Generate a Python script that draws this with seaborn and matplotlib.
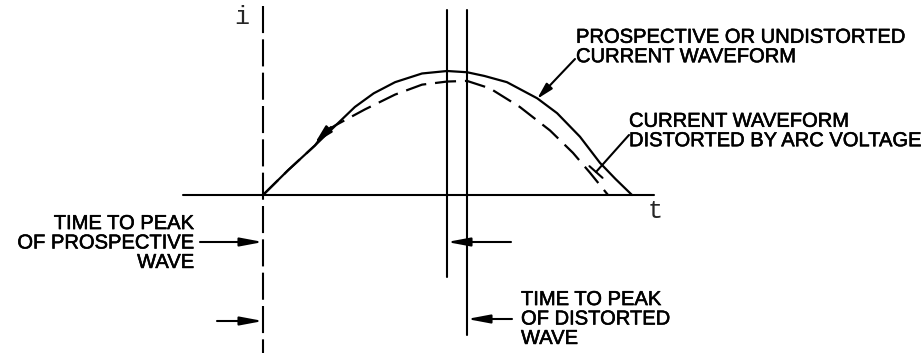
import matplotlib
matplotlib.use("Agg")
import matplotlib.pyplot as plt
import matplotlib.patheffects as pe
import numpy as np
import pandas as pd
import seaborn as sns

# prospective (undistorted) current waveform
solid_t = [0.00, 0.68, 1.41, 2.00, 2.49, 3.00, 3.58, 4.31, 4.99, 5.53, 6.00, 6.61, 7.43, 7.97, 8.59, 9.13, 9.55, 10.00]
solid_i = [0.00, 0.20, 0.40, 0.57, 0.71, 0.82, 0.91, 0.98, 1.00, 0.99, 0.96, 0.91, 0.78, 0.66, 0.47, 0.26, 0.13, 0.00]

# current waveform distorted by arc voltage
dist_t = [0.00, 0.68, 1.41, 1.68, 1.95, 2.76, 3.58, 4.31, 4.99, 5.53, 6.15, 6.96, 7.78, 8.40, 8.86, 9.35]
dist_i = [0.00, 0.20, 0.40, 0.51, 0.56, 0.69, 0.81, 0.89, 0.915, 0.92, 0.86, 0.71, 0.52, 0.34, 0.18, 0.00]

t_peak_prospective = 4.99
t_peak_distorted = 5.53

label_prospective = "PROSPECTIVE OR UNDISTORTED\nCURRENT WAVEFORM"
label_distorted = "CURRENT WAVEFORM\nDISTORTED BY ARC VOLTAGE"
label_time_prosp = "TIME TO PEAK\nOF PROSPECTIVE\nWAVE"
label_time_dist = "TIME TO PEAK\nOF DISTORTED\nWAVE"

# layout: pixel grid of the 922x353 picture -> data units
X0, Y0, PX_T, PX_I = 263, 195, 36.9, 124.0


def px(x, y):
    return ((x - X0) / PX_T, (Y0 - y) / PX_I)


def setup():
    sns.set_theme(style="white")
    plt.rcParams["font.family"] = ["Liberation Sans", "DejaVu Sans"]


def arrow(ax, start, tip, style="-|>,head_length=0.85,head_width=0.16", scale=16):
    ax.annotate("", xy=px(*tip), xytext=px(*start),
                arrowprops=dict(arrowstyle=style, color="black", lw=1.5,
                                mutation_scale=scale, shrinkA=0, shrinkB=0))


def main():
    setup()
    fig = plt.figure(figsize=(9.22, 3.53), dpi=100)
    ax = fig.add_axes([0, 0, 1, 1])
    ax.set_xlim(px(0, 0)[0], px(922, 0)[0])
    ax.set_ylim(px(0, 353)[1], px(0, 0)[1])
    ax.axis("off")

    df_s = pd.DataFrame({"t": solid_t, "i": solid_i})
    df_d = pd.DataFrame({"t": dist_t, "i": dist_i})
    sns.lineplot(data=df_s, x="t", y="i", color="black", lw=1.6, sort=False, estimator=None, ax=ax)
    sns.lineplot(data=df_d, x="t", y="i", color="black", lw=1.6, sort=False, estimator=None,
                 linestyle=(0, (9.5, 4)), ax=ax)

    # time axis
    ax.plot([px(183, 0)[0], px(654, 0)[0]], [0, 0], color="black", lw=1.5)
    # current axis (dashed) at t = 0
    ax.plot([0, 0], [px(0, 6)[1], px(0, 353)[1]], color="black", lw=1.5, linestyle=(0, (13, 3)))
    # peak markers
    ax.plot([t_peak_prospective] * 2, [px(0, 10)[1], px(0, 277)[1]], color="black", lw=1.5)
    ax.plot([t_peak_distorted] * 2, [px(0, 10)[1], px(0, 335)[1]], color="black", lw=1.5)

    ax.text(*px(242, 17), "i", fontsize=18, family="Liberation Mono", ha="center", va="center")
    ax.text(*px(655, 211), "t", fontsize=18, family="Liberation Mono", ha="center", va="center")

    bold = [pe.withStroke(linewidth=0.4, foreground="black")]
    tkw = dict(fontsize=14.5, linespacing=1.03, color="black", path_effects=bold)
    ax.text(*px(576, 47), label_prospective, ha="left", va="center", **tkw)
    ax.text(*px(629, 131), label_distorted, ha="left", va="center", **tkw)
    ax.text(*px(194, 243), label_time_prosp, ha="right", va="center", multialignment="right", **tkw)
    ax.text(*px(521, 319), label_time_dist, ha="left", va="center", **tkw)

    # time-to-peak arrows
    arrow(ax, (200, 242), (263, 242))
    arrow(ax, (217, 321), (263, 321))
    arrow(ax, (511, 242), (447, 242))
    arrow(ax, (512, 319), (467, 319))

    # leaders to the curves
    arrow(ax, (575, 59), (537, 99), style="-|>,head_length=0.7,head_width=0.18", scale=14)
    arrow(ax, (629, 135), (596, 172), style="-[,widthB=0.45,lengthB=0", scale=14)
    arrow(ax, (331, 127), (315, 143), style="-|>,head_length=0.8,head_width=0.2", scale=14)

    fig.savefig("out.png", dpi=100)
    plt.close(fig)


if __name__ == "__main__":
    main()
